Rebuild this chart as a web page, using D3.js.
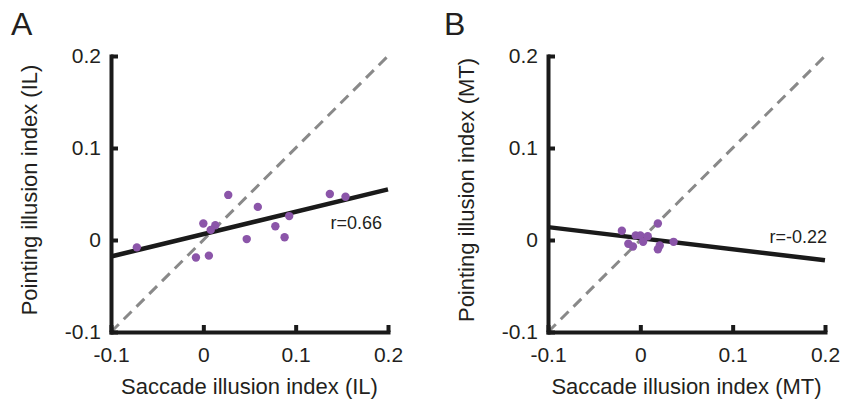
<!DOCTYPE html>
<html>
<head>
<meta charset="utf-8">
<script src="https://cdn.jsdelivr.net/npm/d3@7.9.0/dist/d3.min.js"></script>
<style>
  body { margin: 0; background: #fff; }
  text { font-family: "Liberation Sans", Arial, sans-serif; fill: #231f20; }
</style>
</head>
<body>
<svg width="841" height="401"></svg>
<script>
// panel A (IL)
const ilSaccade = [-0.072, -0.008, 0.006, 0.000, 0.013, 0.008, 0.027, 0.059, 0.047, 0.078, 0.088, 0.093, 0.137, 0.154];
const ilPointing = [-0.008, -0.019, -0.017, 0.018, 0.016, 0.011, 0.049, 0.036, 0.001, 0.015, 0.003, 0.026, 0.050, 0.047];
const ilFit = [-0.018, 0.055]; // y at x=-0.1 and x=0.2

// panel B (MT)
const mtSaccade = [-0.020, -0.013, -0.008, -0.005, 0.000, 0.003, 0.008, 0.019, 0.021, 0.019, 0.036];
const mtPointing = [0.010, -0.004, -0.007, 0.005, 0.005, -0.002, 0.004, 0.018, -0.006, -0.010, -0.002];
const mtFit = [0.014, -0.022];

const ticks = [-0.1, 0, 0.1, 0.2];
const domain = [-0.1, 0.2];

const svg = d3.select('svg');
const purple = '#8b55a9';

function fmt(d) { return d === 0 ? '0' : String(d); }

function drawPanel(opts) {
  let x = d3.scaleLinear().domain(domain).range([opts.left, opts.left + 277]);
  let y = d3.scaleLinear().domain(domain).range([332, 56]);
  let g = svg.append('g');

  // identity line
  g.append('line')
    .attr('x1', x(-0.1)).attr('y1', y(-0.1))
    .attr('x2', x(0.2)).attr('y2', y(0.2))
    .attr('stroke', '#898989').attr('stroke-width', 3)
    .attr('stroke-dasharray', '11,7');

  // regression line
  g.append('line')
    .attr('x1', x(-0.1)).attr('y1', y(opts.fit[0]))
    .attr('x2', x(0.2)).attr('y2', y(opts.fit[1]))
    .attr('stroke', '#1a1a1a').attr('stroke-width', 4.5);

  opts.xs.forEach((d, i) => {
    g.append('circle')
      .attr('cx', x(d)).attr('cy', y(opts.ys[i]))
      .attr('r', 4.2).attr('fill', purple);
  });

  let xAxis = g.append('g').attr('transform', `translate(0,${y(-0.1)})`)
    .call(d3.axisBottom(x).tickValues(ticks).tickFormat(fmt).tickSizeInner(-7).tickSizeOuter(0).tickPadding(15));
  let yAxis = g.append('g').attr('transform', `translate(${x(-0.1)},0)`)
    .call(d3.axisLeft(y).tickValues(ticks).tickFormat(fmt).tickSizeInner(-7).tickSizeOuter(0).tickPadding(10));
  [xAxis, yAxis].forEach(a => {
    a.select('.domain').attr('stroke', '#1a1a1a').attr('stroke-width', 4).attr('stroke-linecap', 'square');
    a.selectAll('.tick line').attr('stroke', '#1a1a1a').attr('stroke-width', 4);
    a.selectAll('.tick text').attr('font-size', 21).attr('fill', '#231f20')
      .style('font-family', '"Liberation Sans", Arial, sans-serif');
  });

  g.append('text')
    .attr('x', x(0.05)).attr('y', 394)
    .attr('text-anchor', 'middle').attr('font-size', 22)
    .text(opts.xLabel);

  g.append('text')
    .attr('transform', `translate(${opts.yLabelX},190) rotate(-90)`)
    .attr('text-anchor', 'middle').attr('font-size', 22)
    .text(opts.yLabel);

  g.append('text')
    .attr('x', opts.rX).attr('y', opts.rY)
    .attr('text-anchor', 'end').attr('font-size', 18)
    .text(opts.rText);

  g.append('text')
    .attr('x', opts.letterX).attr('y', 35)
    .attr('font-size', 32)
    .text(opts.letter);
}

drawPanel({
  left: 111, xs: ilSaccade, ys: ilPointing, fit: ilFit,
  xLabel: 'Saccade illusion index (IL)', yLabel: 'Pointing illusion index (IL)',
  yLabelX: 37, rText: 'r=0.66', rX: 382, rY: 229, letter: 'A', letterX: 11
});

drawPanel({
  left: 548, xs: mtSaccade, ys: mtPointing, fit: mtFit,
  xLabel: 'Saccade illusion index (MT)', yLabel: 'Pointing illusion index (MT)',
  yLabelX: 474, rText: 'r=-0.22', rX: 827, rY: 243, letter: 'B', letterX: 444
});
</script>
</body>
</html>
